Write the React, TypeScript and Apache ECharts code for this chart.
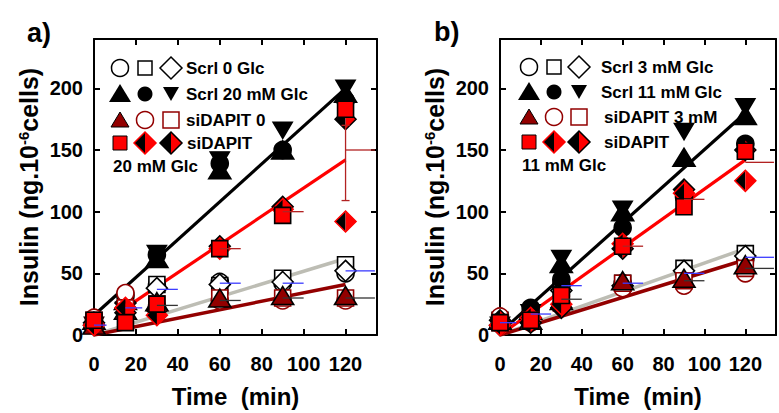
import React, { useEffect, useRef } from 'react';
import * as echarts from 'echarts';

const FONT = '"Liberation Sans", Arial, Helvetica, sans-serif';

// ---------- data ----------
const TIMES = [0, 15, 30, 60, 90, 120];
const X_TICKS = [0, 20, 40, 60, 80, 100, 120];
const Y_TICKS = [0, 50, 100, 150, 200];

// Panel a
const A_SCRL0_CIRCLE = [12, 32, 40, 43, 42, 50];
const A_SCRL0_SQUARE = [10, 28, 41, 40, 46, 57];
const A_SCRL0_DIAMOND = [8, 26, 38, 41, 43, 52];
const A_SCRL20_TRI = [12, 28, 62, 134, 150, 196];
const A_SCRL20_CIRCLE = [10, 24, 65, 139, 150, 190];
const A_SCRL20_INV = [8, 20, 66, 142, 166, 200];
const A_SID0_TRI = [8, 20, 27, 30, 32, 32];
const A_SID0_CIRCLE = [14, 34, 23, 28, 28, 28];
const A_SID0_SQUARE = [12, 22, 25, 30, 30, 30];
const A_SID20_SQUARE = [12, 10, 25, 70, 97, 183];
const A_SID20_DIAM_R = [8, 22, 16, 70, 102, 92];
const A_SID20_DIAM_K = [10, 18, 20, 72, 104, 175];
const A_LINE_SCRL20 = [[0, 16], [120, 200]];
const A_LINE_SID20 = [[15, 22], [120, 142]];
const A_LINE_SCRL0 = [[0, 0], [120, 62]];
const A_LINE_SID0 = [[0, 0], [120, 41]];
const A_HERR_BLUE = [[0, 8, 6], [15, 22, 8], [30, 37, 10], [60, 42, 10], [90, 42, 10], [120, 52, 14]];
const A_HERR_DARK = [[30, 24, 10], [60, 28, 10], [90, 30, 10], [120, 30, 14]];
const A_HERR_RED = [[60, 70, 10], [90, 100, 10], [120, 150, 14]];
const A_VERR_RED = [[120, 109, 170]];

// Panel b
const B_SCRL3_CIRCLE = [10, 18, 40, 42, 50, 62];
const B_SCRL3_SQUARE = [12, 15, 38, 42, 54, 66];
const B_SCRL3_DIAMOND = [8, 14, 36, 40, 52, 64];
const B_SCRL11_TRI = [12, 20, 58, 100, 144, 178];
const B_SCRL11_CIRCLE = [10, 22, 45, 87, 112, 155];
const B_SCRL11_INV = [8, 18, 62, 102, 165, 185];
const B_SID3_TRI = [12, 12, 28, 44, 46, 57];
const B_SID3_CIRCLE = [15, 10, 25, 38, 40, 50];
const B_SID3_SQUARE = [10, 12, 26, 42, 44, 54];
const B_SID11_SQUARE = [10, 12, 32, 72, 104, 149];
const B_SID11_DIAM_R = [8, 14, 25, 74, 115, 125];
const B_SID11_DIAM_K = [12, 10, 22, 70, 118, 150];
const B_LINE_SCRL11 = [[0, 2], [120, 180]];
const B_LINE_SID11 = [[0, 0], [120, 142]];
const B_LINE_SCRL3 = [[0, 0], [120, 70]];
const B_LINE_SID3 = [[0, 0], [120, 61]];
const B_HERR_BLUE = [[0, 10, 8], [15, 17, 10], [30, 40, 10], [60, 42, 10], [90, 50, 10], [120, 63, 14]];
const B_HERR_DARK = [[30, 29, 10], [90, 44, 10], [120, 54, 14]];
const B_HERR_RED = [[60, 72, 10], [90, 110, 10], [120, 140, 14]];

const LEGEND_A = ['Scrl 0 Glc', 'Scrl 20 mM Glc', 'siDAPIT 0', 'siDAPIT', '20 mM Glc'];
const LEGEND_B = ['Scrl 3 mM Glc', 'Scrl 11 mM Glc', 'siDAPIT 3 mM', 'siDAPIT', '11 mM Glc'];

// ---------- styles ----------
const BLACK = '#000000';
const DARKRED = '#930000';
const RED = '#ff0000';
const GRAY = '#bdbdb4';
const BLUE = '#3c3cff';

type Kind = 'circle' | 'rect' | 'diamond' | 'tri' | 'inv';

function markerSeries(panel: number, vals: number[], kind: Kind, fill: string, stroke: string, z: number) {
  const sym: any = {
    circle: { symbol: 'circle', symbolSize: 17 },
    rect: { symbol: 'rect', symbolSize: 16 },
    diamond: { symbol: 'diamond', symbolSize: [21, 21] },
    tri: { symbol: 'triangle', symbolSize: [22, 18] },
    inv: { symbol: 'triangle', symbolSize: [19, 16], symbolRotate: 180 },
  }[kind];
  return {
    type: 'scatter',
    xAxisIndex: panel * 2,
    yAxisIndex: panel * 2,
    clip: false,
    z,
    silent: true,
    data: TIMES.map((t, i) => [t, vals[i]]),
    ...sym,
    itemStyle: { color: fill, borderColor: stroke, borderWidth: 1.6, opacity: 1 },
  };
}

function halfDiamondShape(cx: number, cy: number, s: number, left: string, right: string, outline: string) {
  return {
    type: 'group',
    children: [
      { type: 'polygon', shape: { points: [[cx, cy - s], [cx - s, cy], [cx, cy + s]] }, style: { fill: left } },
      { type: 'polygon', shape: { points: [[cx, cy - s], [cx + s, cy], [cx, cy + s]] }, style: { fill: right } },
      {
        type: 'polygon',
        shape: { points: [[cx, cy - s], [cx + s, cy], [cx, cy + s], [cx - s, cy]] },
        style: { fill: 'none', stroke: outline, lineWidth: 1.5 },
      },
    ],
  };
}

function halfDiamondSeries(panel: number, vals: number[], outline: string, z: number) {
  return {
    type: 'custom',
    xAxisIndex: panel * 2,
    yAxisIndex: panel * 2,
    clip: false,
    z,
    silent: true,
    data: TIMES.map((t, i) => [t, vals[i]]),
    renderItem: (_p: any, api: any) => {
      const p = api.coord([api.value(0), api.value(1)]);
      return halfDiamondShape(p[0], p[1], 10.5, BLACK, RED, outline);
    },
  };
}

function lineSeries(panel: number, data: number[][], color: string, width: number, z: number) {
  return {
    type: 'line',
    xAxisIndex: panel * 2,
    yAxisIndex: panel * 2,
    data,
    symbol: 'none',
    silent: true,
    z,
    lineStyle: { color, width },
  };
}

function hErrSeries(panel: number, data: number[][], color: string, z: number) {
  return {
    type: 'custom',
    xAxisIndex: panel * 2,
    yAxisIndex: panel * 2,
    clip: false,
    silent: true,
    z,
    data,
    renderItem: (_p: any, api: any) => {
      const a = api.coord([api.value(0), api.value(1)]);
      const b = api.coord([api.value(0) + api.value(2), api.value(1)]);
      return { type: 'line', shape: { x1: a[0], y1: a[1], x2: b[0], y2: b[1] }, style: { stroke: color, lineWidth: 1.3 } };
    },
  };
}

function vErrSeries(panel: number, data: number[][], color: string, z: number) {
  return {
    type: 'custom',
    xAxisIndex: panel * 2,
    yAxisIndex: panel * 2,
    clip: false,
    silent: true,
    z,
    data,
    renderItem: (_p: any, api: any) => {
      const a = api.coord([api.value(0), api.value(1)]);
      const b = api.coord([api.value(0), api.value(2)]);
      const st = { stroke: color, lineWidth: 1.3 };
      return {
        type: 'group',
        children: [
          { type: 'line', shape: { x1: a[0], y1: a[1], x2: b[0], y2: b[1] }, style: st },
          { type: 'line', shape: { x1: a[0] - 4, y1: a[1], x2: a[0] + 4, y2: a[1] }, style: st },
          { type: 'line', shape: { x1: b[0] - 4, y1: b[1], x2: b[0] + 4, y2: b[1] }, style: st },
        ],
      };
    },
  };
}

function axesFor(panel: number) {
  const lineStyle = { color: BLACK, width: 2 };
  const tick = { inside: true, length: 6, lineStyle: { color: BLACK, width: 2 } };
  const xBase: any = {
    type: 'value',
    gridIndex: panel,
    min: 0,
    max: 135,
    interval: 20,
    splitLine: { show: false },
    axisLine: { onZero: false, lineStyle },
    axisTick: tick,
  };
  const yBase: any = {
    type: 'value',
    gridIndex: panel,
    min: 0,
    max: 240,
    interval: 50,
    splitLine: { show: false },
    axisLine: { onZero: false, lineStyle },
    axisTick: tick,
  };
  const xAxes = [
    {
      ...xBase,
      position: 'bottom',
      axisLabel: {
        margin: 19,
        formatter: (v: number) => (X_TICKS.includes(v) ? String(v) : ''),
        fontSize: 20,
        fontWeight: 'bold',
        color: BLACK,
        fontFamily: FONT,
      },
      name: 'Time  (min)',
      nameLocation: 'middle',
      nameGap: 49,
      nameTextStyle: { fontSize: 24, fontWeight: 'bold', color: BLACK, fontFamily: FONT },
    },
    { ...xBase, position: 'top', axisLabel: { show: false } },
  ];
  const yAxes = [
    {
      ...yBase,
      position: 'left',
      axisLabel: {
        margin: 11,
        formatter: (v: number) => (Y_TICKS.includes(v) ? String(v) : ''),
        fontSize: 20,
        fontWeight: 'bold',
        color: BLACK,
        fontFamily: FONT,
      },
      name: '{n|Insulin (ng.10}{s|-6}{n|cells)}',
      nameLocation: 'middle',
      nameGap: 53,
      nameTextStyle: {
        rich: {
          n: { fontSize: 25, fontWeight: 'bold', color: BLACK, fontFamily: FONT },
          s: { fontSize: 15, fontWeight: 'bold', color: BLACK, fontFamily: FONT, verticalAlign: 'top' },
        },
      },
    },
    { ...yBase, position: 'right', axisLabel: { show: false } },
  ];
  return { xAxes, yAxes };
}

type PanelData = {
  scrlLowC: number[]; scrlLowS: number[]; scrlLowD: number[];
  scrlHiT: number[]; scrlHiC: number[]; scrlHiI: number[];
  sidLowT: number[]; sidLowC: number[]; sidLowS: number[];
  sidHiS: number[]; sidHiDR: number[]; sidHiDK: number[];
  lScrlHi: number[][]; lSidHi: number[][]; lScrlLow: number[][]; lSidLow: number[][];
  hBlue: number[][]; hDark: number[][]; hRed: number[][]; vRed: number[][];
};

function panelSeries(p: number, d: PanelData) {
  return [
    lineSeries(p, d.lScrlLow, GRAY, 3.5, 1),
    lineSeries(p, d.lSidLow, DARKRED, 3.5, 1),
    lineSeries(p, d.lScrlHi, BLACK, 3.2, 1),
    lineSeries(p, d.lSidHi, RED, 3.2, 1),
    markerSeries(p, d.scrlLowC, 'circle', '#ffffff', BLACK, 3),
    markerSeries(p, d.scrlLowS, 'rect', '#ffffff', BLACK, 3),
    markerSeries(p, d.scrlLowD, 'diamond', '#ffffff', BLACK, 3),
    markerSeries(p, d.scrlHiT, 'tri', BLACK, BLACK, 4),
    markerSeries(p, d.scrlHiC, 'circle', BLACK, BLACK, 4),
    markerSeries(p, d.scrlHiI, 'inv', BLACK, BLACK, 4),
    markerSeries(p, d.sidLowC, 'circle', '#ffffff', DARKRED, 5),
    markerSeries(p, d.sidLowS, 'rect', '#ffffff', DARKRED, 5),
    markerSeries(p, d.sidLowT, 'tri', DARKRED, BLACK, 5),
    halfDiamondSeries(p, d.sidHiDK, BLACK, 6),
    halfDiamondSeries(p, d.sidHiDR, RED, 6),
    markerSeries(p, d.sidHiS, 'rect', RED, BLACK, 6),
    hErrSeries(p, d.hBlue, BLUE, 7),
    hErrSeries(p, d.hDark, '#333333', 7),
    hErrSeries(p, d.hRed, '#b22222', 7),
    vErrSeries(p, d.vRed, '#b22222', 7),
  ];
}

function legendGraphics(cols: number[], rows: number[], textX: number[], lastX: number, lastY: number, labels: string[]) {
  const font = `bold 17px ${FONT}`;
  const [c1, c2, c3] = cols;
  const [r1, r2, r3, r4] = rows;
  const open = { fill: '#ffffff', stroke: BLACK, lineWidth: 1.5 };
  const openR = { fill: '#ffffff', stroke: DARKRED, lineWidth: 1.5 };
  const els: any[] = [
    { type: 'circle', shape: { cx: c1, cy: r1, r: 8.5 }, style: open },
    { type: 'rect', shape: { x: c2 - 7, y: r1 - 7, width: 14, height: 14 }, style: open },
    { type: 'polygon', shape: { points: [[c3, r1 - 11], [c3 + 11, r1], [c3, r1 + 11], [c3 - 11, r1]] }, style: open },
    { type: 'polygon', shape: { points: [[c1, r2 - 10], [c1 + 11, r2 + 8], [c1 - 11, r2 + 8]] }, style: { fill: BLACK } },
    { type: 'circle', shape: { cx: c2, cy: r2, r: 7.5 }, style: { fill: BLACK } },
    { type: 'polygon', shape: { points: [[c3 - 8, r2 - 7], [c3 + 8, r2 - 7], [c3, r2 + 7]] }, style: { fill: BLACK } },
    { type: 'polygon', shape: { points: [[c1, r3 - 8], [c1 + 9, r3 + 7], [c1 - 9, r3 + 7]] }, style: { fill: DARKRED, stroke: BLACK, lineWidth: 1 } },
    { type: 'circle', shape: { cx: c2, cy: r3, r: 8.5 }, style: openR },
    { type: 'rect', shape: { x: c3 - 8, y: r3 - 8, width: 16, height: 16 }, style: openR },
    { type: 'rect', shape: { x: c1 - 7, y: r4 - 7, width: 14, height: 14 }, style: { fill: RED, stroke: BLACK, lineWidth: 1 } },
    halfDiamondShape(c2, r4, 11, BLACK, RED, RED),
    halfDiamondShape(c3, r4, 11, BLACK, RED, BLACK),
  ];
  [r1, r2, r3, r4].forEach((r, i) => {
    els.push({ type: 'text', x: textX[i], y: r, style: { text: labels[i], font, fill: BLACK, align: 'left', verticalAlign: 'middle' } });
  });
  els.push({ type: 'text', x: lastX, y: lastY, style: { text: labels[4], font, fill: BLACK, align: 'left', verticalAlign: 'middle' } });
  return els;
}

export default function App() {
  const ref = useRef<HTMLDivElement>(null);
  useEffect(() => {
    if (!ref.current) return;
    const chart = echarts.init(ref.current, undefined, { renderer: 'svg' });
    const a = axesFor(0);
    const b = axesFor(1);
    const dataA: PanelData = {
      scrlLowC: A_SCRL0_CIRCLE, scrlLowS: A_SCRL0_SQUARE, scrlLowD: A_SCRL0_DIAMOND,
      scrlHiT: A_SCRL20_TRI, scrlHiC: A_SCRL20_CIRCLE, scrlHiI: A_SCRL20_INV,
      sidLowT: A_SID0_TRI, sidLowC: A_SID0_CIRCLE, sidLowS: A_SID0_SQUARE,
      sidHiS: A_SID20_SQUARE, sidHiDR: A_SID20_DIAM_R, sidHiDK: A_SID20_DIAM_K,
      lScrlHi: A_LINE_SCRL20, lSidHi: A_LINE_SID20, lScrlLow: A_LINE_SCRL0, lSidLow: A_LINE_SID0,
      hBlue: A_HERR_BLUE, hDark: A_HERR_DARK, hRed: A_HERR_RED, vRed: A_VERR_RED,
    };
    const dataB: PanelData = {
      scrlLowC: B_SCRL3_CIRCLE, scrlLowS: B_SCRL3_SQUARE, scrlLowD: B_SCRL3_DIAMOND,
      scrlHiT: B_SCRL11_TRI, scrlHiC: B_SCRL11_CIRCLE, scrlHiI: B_SCRL11_INV,
      sidLowT: B_SID3_TRI, sidLowC: B_SID3_CIRCLE, sidLowS: B_SID3_SQUARE,
      sidHiS: B_SID11_SQUARE, sidHiDR: B_SID11_DIAM_R, sidHiDK: B_SID11_DIAM_K,
      lScrlHi: B_LINE_SCRL11, lSidHi: B_LINE_SID11, lScrlLow: B_LINE_SCRL3, lSidLow: B_LINE_SID3,
      hBlue: B_HERR_BLUE, hDark: B_HERR_DARK, hRed: B_HERR_RED, vRed: [],
    };
    const option: any = {
      animation: false,
      backgroundColor: '#ffffff',
      grid: [
        { left: 94, top: 39, width: 283, height: 301 },
        { left: 500, top: 39, width: 284, height: 301 },
      ],
      xAxis: [...a.xAxes, ...b.xAxes],
      yAxis: [...a.yAxes, ...b.yAxes],
      series: [...panelSeries(0, dataA), ...panelSeries(1, dataB)],
      graphic: [
        { type: 'text', x: 27, y: 33, style: { text: 'a)', font: `bold 27px ${FONT}`, fill: BLACK, verticalAlign: 'middle' } },
        { type: 'text', x: 434, y: 32, style: { text: 'b)', font: `bold 27px ${FONT}`, fill: BLACK, verticalAlign: 'middle' } },
        ...legendGraphics([120, 145, 171], [68, 94, 120, 143], [186, 186, 186, 187], 113, 166, LEGEND_A),
        ...legendGraphics([529, 554, 579], [67, 92, 117, 142], [601, 601, 604, 604], 522, 165, LEGEND_B),
      ],
    };
    chart.setOption(option);
    return () => chart.dispose();
  }, []);
  return <div ref={ref} style={{ position: 'absolute', left: 0, top: 0, width: 779, height: 413 }} />;
}
